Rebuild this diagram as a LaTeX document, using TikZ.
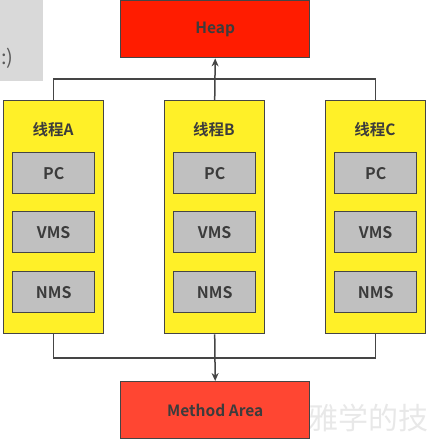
\documentclass[tikz,border=0pt]{standalone}
\usepackage{fontspec}
\setmainfont{Noto Sans CJK SC}[BoldFont={* Bold}]
\newfontfamily\cjkb{Noto Sans CJK SC Bold}
\usetikzlibrary{arrows.meta}
\definecolor{heapred}{HTML}{FF1C00}
\definecolor{methred}{HTML}{FF4632}
\definecolor{thyellow}{HTML}{FFF028}
\definecolor{boxgray}{HTML}{C0C0C0}
\definecolor{edgegray}{HTML}{454545}
\definecolor{txtgray}{HTML}{3C3C3C}
\definecolor{slidegray}{HTML}{D9D9D9}
\tikzset{
  x=1pt, y=-1pt,
  redbox/.style={draw=edgegray, line width=1.4pt, minimum width=189pt, minimum height=57pt, anchor=north west, inner sep=0pt, font=\cjkb\fontsize{15.5}{15.5}\selectfont, text=txtgray},
  thread/.style={draw=edgegray, line width=1.4pt, fill=thyellow, minimum width=100pt, minimum height=233pt, anchor=north west, inner sep=0pt},
  thlabel/.style={font=\cjkb\fontsize{15.5}{15.5}\selectfont, text=txtgray},
  reg/.style={draw=edgegray, line width=1.4pt, fill=boxgray, minimum width=82pt, minimum height=41pt, anchor=north west, inner sep=0pt, font=\cjkb\fontsize{16}{16}\selectfont, text=txtgray},
  conn/.style={draw=edgegray, line width=1.5pt},
  arr/.style={conn, -{Stealth[length=8pt,width=7pt]}}
}
\begin{document}
\begin{tikzpicture}
\useasboundingbox (0,0) rectangle (428,444);
% slide fragment top-left
\fill[slidegray] (0,0) rectangle (43,81);
\node[font=\fontsize{20}{20}\selectfont, text=black!65, anchor=west, inner sep=0pt] (slidetxt) at (1,58) {:)};
% watermark
\node[font=\fontsize{30}{30}\selectfont, text=black!9, anchor=west, inner sep=0pt] (wm) at (308,418) {雅学的技};
% Heap and Method Area
\node[redbox, fill=heapred] (heap) at (120,0) {Heap};
\node[redbox, fill=methred] (meth) at (120,381) {Method Area};
% threads
\foreach \n/\x/\l in {A/3/线程A, B/164/线程B, C/325/线程C}{
  \node[thread] (t\n) at (\x,100) {};
  \node[thlabel] (lab\n) at (\x+50,130) {\l};
  \node[reg] (pc\n) at (\x+9,152) {PC};
  \node[reg] (vms\n) at (\x+9,211) {VMS};
  \node[reg] (nms\n) at (\x+9,271) {NMS};
}
% connectors
\coordinate (topL) at (tA.north |- 0,79);
\coordinate (topR) at (tC.north |- 0,79);
\coordinate (botL) at (tA.south |- 0,358);
\coordinate (botR) at (tC.south |- 0,358);
\draw[conn] (tA.north) -- (topL) -- (topR) -- (tC.north);
\draw[arr] (tB.north) -- (heap.south);
\draw[conn] (tA.south) -- (botL) -- (botR) -- (tC.south);
\draw[arr] (tB.south) -- (meth.north);
\end{tikzpicture}
\end{document}
